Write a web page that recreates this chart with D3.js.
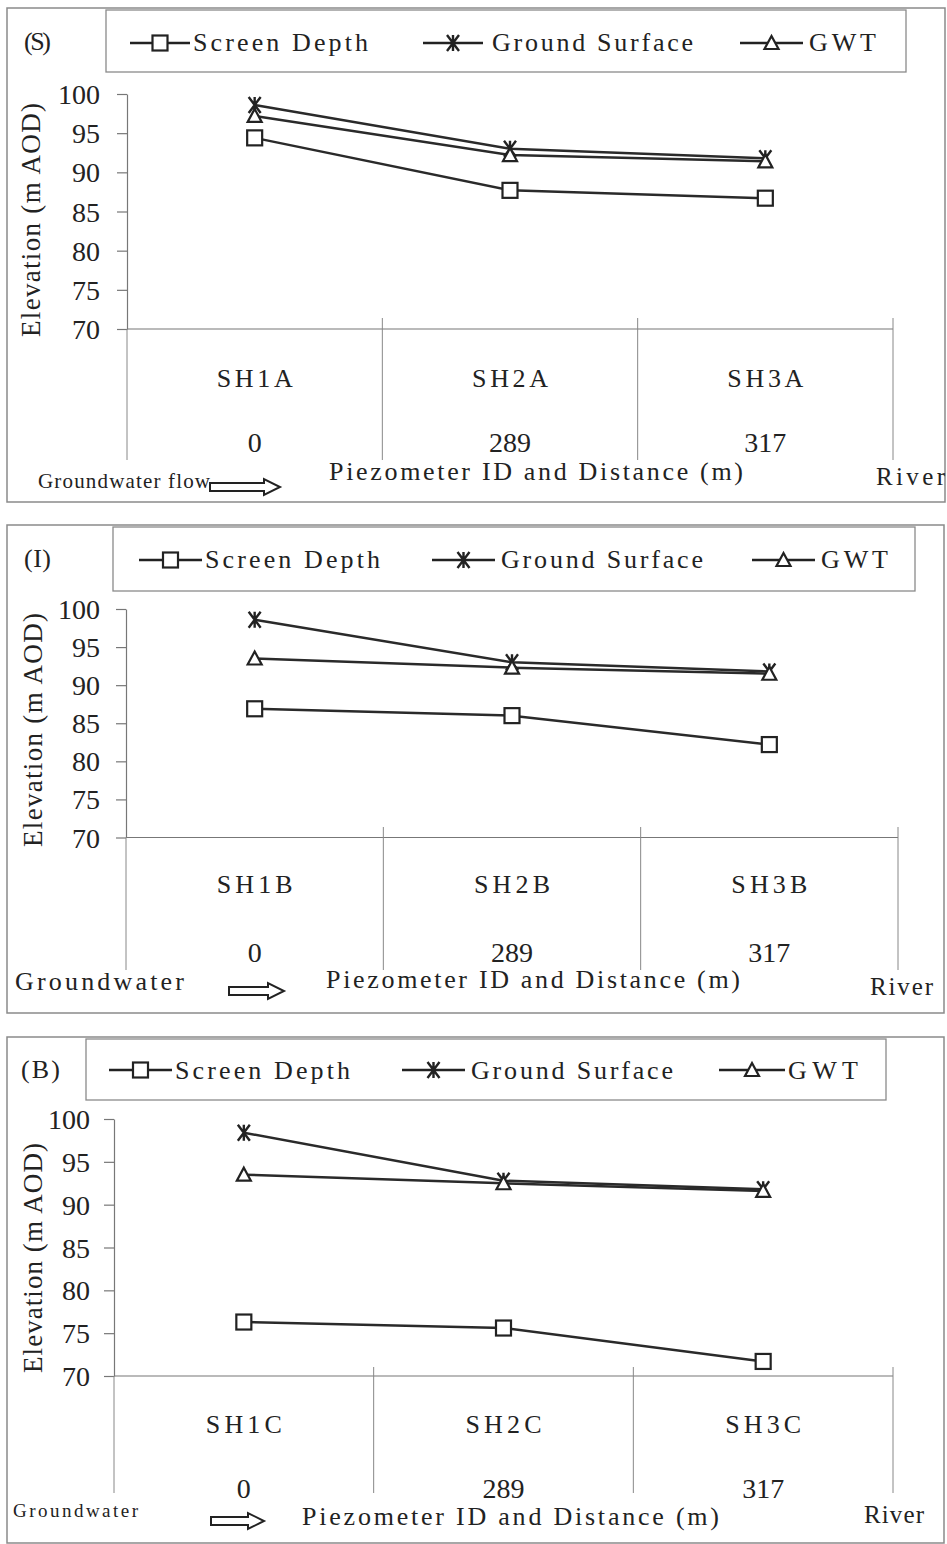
<!DOCTYPE html>
<html>
<head>
<meta charset="utf-8">
<script src="https://cdn.jsdelivr.net/npm/d3@7"></script>
<style>
  body { margin: 0; background: #fff; }
  svg { display: block; }
  svg text { font-family: "Liberation Serif", "Times New Roman", serif; }
</style>
</head>
<body>
<div id="graph"></div>
<script>
const seriesNames = ["Screen Depth", "Ground Surface", "GWT"]
const distances = ["0", "289", "317"]
const yTicks = [70, 75, 80, 85, 90, 95, 100]

const idsS = ["SH1A", "SH2A", "SH3A"]
const screenS = [94.4, 87.7, 86.7]
const groundS = [98.6, 93.0, 91.8]
const gwtS = [97.2, 92.2, 91.4]

const idsI = ["SH1B", "SH2B", "SH3B"]
const screenI = [86.9, 86.0, 82.2]
const groundI = [98.6, 93.0, 91.8]
const gwtI = [93.5, 92.3, 91.5]

const idsB = ["SH1C", "SH2C", "SH3C"]
const screenB = [76.3, 75.6, 71.7]
const groundB = [98.4, 92.8, 91.8]
const gwtB = [93.5, 92.5, 91.6]

const width = 947
const height = 1544
const ink = "#222"

// layout of each of the three stacked panels
const panels = [
    {
        label: "(S)", labelBox: [24, 51, 50], ids: idsS, series: [screenS, groundS, gwtS],
        frame: [7, 8, 945, 502], legendBox: [106, 10, 906, 72], legendY: 43, legendBase: 51,
        legendItems: [[130, 190, 193, 368], [423, 483, 492, 693], [740, 803, 809, 876]],
        x0: 127, x1: 893, yTop: 94, yBottom: 329, tickPad: 17, sepTop: 318, sepBottom: 460,
        idY: 387, distY: 452, yTitle: [31, 220, 234],
        flow: { text: "Groundwater flow", x: 38, w: 172, y: 488, size: 21 },
        arrow: [210, 280, 487], piezo: [329, 743, 480], river: [876, 945, 485]
    },
    {
        label: "(I)", labelBox: [24, 51, 567], ids: idsI, series: [screenI, groundI, gwtI],
        frame: [7, 525, 944, 1013], legendBox: [113, 527, 915, 591], legendY: 560, legendBase: 568,
        legendItems: [[139, 202, 205, 380], [432, 495, 501, 703], [752, 815, 821, 888]],
        x0: 126, x1: 898, yTop: 609, yBottom: 837.5, tickPad: 16, sepTop: 827, sepBottom: 970,
        idY: 893, distY: 962, yTitle: [33, 730, 234],
        flow: { text: "Groundwater", x: 15, w: 169, y: 990, size: 26 },
        arrow: [229, 284, 991], piezo: [326, 740, 988], river: [870, 933, 995]
    },
    {
        label: "(B)", labelBox: [21, 60, 1078], ids: idsB, series: [screenB, groundB, gwtB],
        frame: [7, 1037, 944, 1543], legendBox: [86, 1039, 886, 1100], legendY: 1070, legendBase: 1079,
        legendItems: [[109, 172, 175, 350], [402, 465, 471, 673], [719, 785, 788, 858]],
        x0: 114, x1: 893, yTop: 1119, yBottom: 1376, tickPad: 14, sepTop: 1367, sepBottom: 1493,
        idY: 1433, distY: 1498, yTitle: [33, 1258, 230],
        flow: { text: "Groundwater", x: 13, w: 125, y: 1517, size: 19 },
        arrow: [211, 264, 1521], piezo: [302, 719, 1525], river: [864, 924, 1523]
    }
]

const svg = d3.select("#graph").append("svg")
    .attr("width", width)
    .attr("height", height)

svg.append("rect")
    .attr("width", width)
    .attr("height", height)
    .attr("fill", "#fff")

function marker(g, i, x, y) {
    if (i === 0) {
        g.append("rect")
            .attr("x", x - 7.5).attr("y", y - 7.5)
            .attr("width", 15).attr("height", 15)
            .attr("fill", "#fff").attr("stroke", ink).attr("stroke-width", 2.2)
    } else if (i === 1) {
        g.append("path")
            .attr("d", `M${x - 6},${y - 8}L${x + 6},${y + 8}M${x + 6},${y - 8}L${x - 6},${y + 8}M${x},${y - 8}L${x},${y + 8}`)
            .attr("fill", "none").attr("stroke", ink).attr("stroke-width", 2.4)
    } else {
        g.append("path")
            .attr("d", `M${x},${y - 7}L${x + 7},${y + 6}L${x - 7},${y + 6}Z`)
            .attr("fill", "#fff").attr("stroke", ink).attr("stroke-width", 2.2)
    }
}

function label(g, txt, x, y, size, len, anchor) {
    const t = g.append("text")
        .attr("x", x).attr("y", y)
        .attr("font-size", size)
        .attr("fill", ink)
        .attr("text-anchor", anchor || "start")
        .text(txt)
    if (len) t.attr("textLength", len).attr("lengthAdjust", "spacing")
    return t
}

panels.forEach(p => {
    const g = svg.append("g")

    // outer frame
    g.append("rect")
        .attr("x", p.frame[0]).attr("y", p.frame[1])
        .attr("width", p.frame[2] - p.frame[0]).attr("height", p.frame[3] - p.frame[1])
        .attr("fill", "none").attr("stroke", "#8a8a8a").attr("stroke-width", 1.5)

    label(g, p.label, p.labelBox[0], p.labelBox[2], 26, p.labelBox[1] - p.labelBox[0])

    // legend
    g.append("rect")
        .attr("x", p.legendBox[0]).attr("y", p.legendBox[1])
        .attr("width", p.legendBox[2] - p.legendBox[0]).attr("height", p.legendBox[3] - p.legendBox[1])
        .attr("fill", "none").attr("stroke", "#8a8a8a").attr("stroke-width", 1.3)

    p.legendItems.forEach((it, i) => {
        g.append("line")
            .attr("x1", it[0]).attr("x2", it[1])
            .attr("y1", p.legendY).attr("y2", p.legendY)
            .attr("stroke", ink).attr("stroke-width", 2.4)
        marker(g, i, (it[0] + it[1]) / 2, p.legendY)
        label(g, seriesNames[i], it[2], p.legendBase, 26, it[3] - it[2])
    })

    const x = d3.scaleBand()
        .domain(p.ids)
        .range([p.x0, p.x1])
    const y = d3.scaleLinear()
        .domain([70, 100])
        .range([p.yBottom, p.yTop])

    // y axis
    const yAxis = g.append("g")
        .attr("transform", `translate(${p.x0},0)`)
        .call(d3.axisLeft(y).tickValues(yTicks).tickSize(10).tickSizeOuter(0).tickPadding(p.tickPad))
    yAxis.select(".domain").attr("stroke", "#777").attr("stroke-width", 1.2)
    yAxis.selectAll(".tick line").attr("stroke", "#777").attr("stroke-width", 1.2)
    yAxis.selectAll(".tick text")
        .attr("font-size", 28)
        .attr("fill", ink)
        .attr("dy", "0.34em")

    // category axis: baseline and separators
    g.append("line")
        .attr("x1", p.x0).attr("x2", p.x1)
        .attr("y1", y(70)).attr("y2", y(70))
        .attr("stroke", "#777").attr("stroke-width", 1.2)

    g.selectAll(null)
        .data(p.ids.map(d => x(d)).concat([p.x1]))
        .join("line")
        .attr("x1", d => d).attr("x2", d => d)
        .attr("y1", (d, i) => i === 0 ? y(70) : p.sepTop)
        .attr("y2", p.sepBottom)
        .attr("stroke", "#888").attr("stroke-width", 1)

    const cx = d => x(d) + x.bandwidth() / 2

    g.selectAll(null)
        .data(p.ids)
        .join("text")
        .attr("x", cx).attr("y", p.idY)
        .attr("font-size", 26).attr("fill", ink)
        .attr("text-anchor", "middle")
        .attr("textLength", 76).attr("lengthAdjust", "spacing")
        .text(d => d)

    g.selectAll(null)
        .data(p.ids)
        .join("text")
        .attr("x", cx).attr("y", p.distY)
        .attr("font-size", 28).attr("fill", ink)
        .attr("text-anchor", "middle")
        .text((d, i) => distances[i])

    // series lines then markers
    const line = d3.line()
        .x((v, i) => cx(p.ids[i]))
        .y(v => y(v))

    p.series.forEach(s => {
        g.append("path")
            .attr("d", line(s))
            .attr("fill", "none")
            .attr("stroke", "#2a2a2a")
            .attr("stroke-width", 2.5)
    })
    p.series.forEach((s, i) => {
        s.forEach((v, j) => marker(g, i, cx(p.ids[j]), y(v)))
    })

    // y title
    g.append("text")
        .attr("transform", `translate(${p.yTitle[0] + 9},${p.yTitle[1]}) rotate(-90)`)
        .attr("font-size", 27).attr("fill", ink)
        .attr("text-anchor", "middle")
        .attr("textLength", p.yTitle[2]).attr("lengthAdjust", "spacing")
        .text("Elevation (m AOD)")

    // bottom annotations
    label(g, p.flow.text, p.flow.x, p.flow.y, p.flow.size, p.flow.w)
    const [a0, a1, ay] = p.arrow
    g.append("path")
        .attr("d", `M${a0},${ay - 4}L${a1 - 16},${ay - 4}L${a1 - 16},${ay - 8}L${a1},${ay}L${a1 - 16},${ay + 8}L${a1 - 16},${ay + 4}L${a0},${ay + 4}Z`)
        .attr("fill", "#fff").attr("stroke", ink).attr("stroke-width", 2)
    label(g, "Piezometer ID and Distance (m)", p.piezo[0], p.piezo[2], 26, p.piezo[1] - p.piezo[0])
    label(g, "River", p.river[0], p.river[2], 25, p.river[1] - p.river[0])
})
</script>
</body>
</html>
